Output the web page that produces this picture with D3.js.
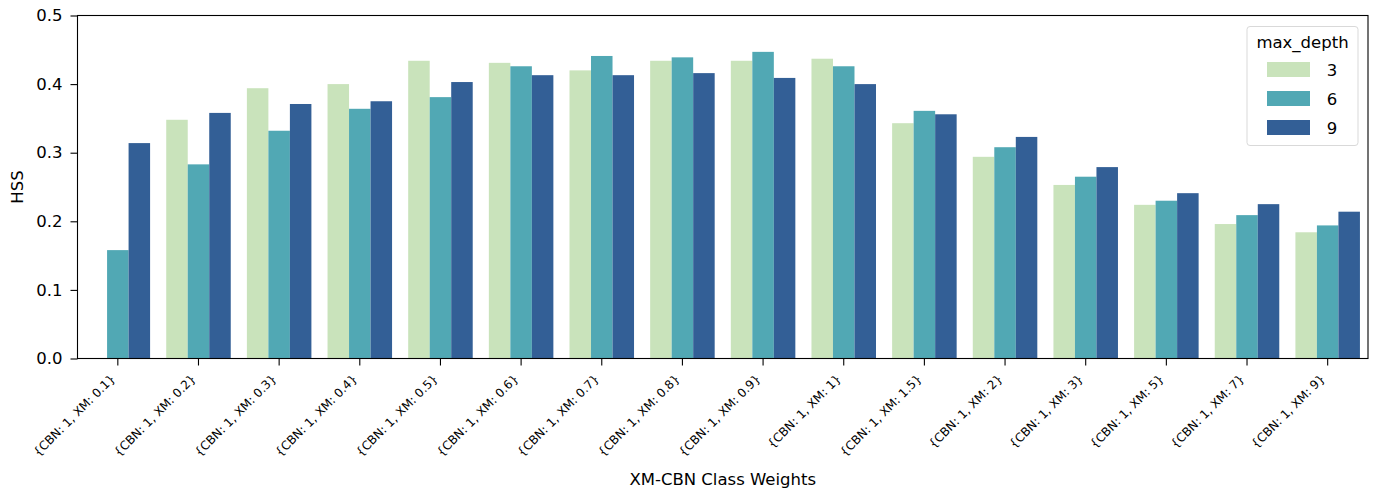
<!DOCTYPE html>
<html><head><meta charset="utf-8">
<script src="https://cdn.jsdelivr.net/npm/d3@7"></script>
<style>body{margin:0;background:#fff}svg{display:block;font-family:"DejaVu Sans",sans-serif}</style>
</head><body><svg id="c" width="1376" height="491"></svg>
<script>
const categories = ["{CBN: 1, XM: 0.1}","{CBN: 1, XM: 0.2}","{CBN: 1, XM: 0.3}","{CBN: 1, XM: 0.4}","{CBN: 1, XM: 0.5}","{CBN: 1, XM: 0.6}","{CBN: 1, XM: 0.7}","{CBN: 1, XM: 0.8}","{CBN: 1, XM: 0.9}","{CBN: 1, XM: 1}","{CBN: 1, XM: 1.5}","{CBN: 1, XM: 2}","{CBN: 1, XM: 3}","{CBN: 1, XM: 5}","{CBN: 1, XM: 7}","{CBN: 1, XM: 9}"];
const depths = ["3","6","9"];
const depth3 = [0.0,0.348,0.394,0.400,0.434,0.431,0.420,0.434,0.434,0.437,0.343,0.294,0.253,0.224,0.196,0.184];
const depth6 = [0.158,0.283,0.332,0.364,0.381,0.426,0.441,0.439,0.447,0.426,0.361,0.308,0.265,0.230,0.209,0.194];
const depth9 = [0.314,0.358,0.371,0.375,0.403,0.413,0.413,0.416,0.409,0.400,0.356,0.323,0.279,0.241,0.225,0.214];
const yTicks = [0.0,0.1,0.2,0.3,0.4,0.5];
const colors = ["#c9e3bb","#51a8b4","#335f96"];

const series = [depth3, depth6, depth9];
const svg = d3.select("#c");
const L = 77.5, R = 1368, T = 15.5, B = 358.5;
const FS = 16.5;
const x = d3.scaleBand().domain(categories).range([L, R]).paddingInner(0.2).paddingOuter(0.1);
const xs = d3.scaleBand().domain(depths).range([0, x.bandwidth()]);
const y = d3.scaleLinear().domain([0, 0.5]).range([B, T]);

const g = svg.append("g");
categories.forEach((c, i) => {
  depths.forEach((d, j) => {
    const v = series[j][i];
    if (!v) return;
    g.append("rect").attr("x", x(c) + xs(d)).attr("width", xs.bandwidth())
      .attr("y", y(v)).attr("height", B - y(v)).attr("fill", colors[j]);
  });
});

// frame
svg.append("rect").attr("x", L).attr("y", T).attr("width", R - L).attr("height", B - T)
  .attr("fill", "none").attr("stroke", "#000").attr("stroke-width", 1.1);

// y axis
const ya = svg.append("g").attr("transform", `translate(${L},0)`)
  .call(d3.axisLeft(y).tickValues(yTicks).tickFormat(d3.format(".1f")).tickSize(7).tickPadding(8));
ya.select(".domain").remove();
ya.selectAll("text").attr("font-size", FS).attr("fill", "#000").attr("font-family", "DejaVu Sans");
ya.selectAll("line").attr("stroke", "#000").attr("stroke-width", 1.1);

// x axis
const xa = svg.append("g").attr("transform", `translate(0,${B})`)
  .call(d3.axisBottom(x).tickSize(7).tickFormat(""));
xa.select(".domain").remove();
xa.selectAll("line").attr("stroke", "#000").attr("stroke-width", 1.1);
xa.selectAll(".tick").append("text")
  .attr("transform", "translate(-2,21) rotate(-45)")
  .attr("text-anchor", "end")
  .attr("font-size", 12).attr("fill", "#000").attr("font-family", "DejaVu Sans")
  .text(d => d);

svg.append("text").attr("x", (L + R) / 2).attr("y", 485).attr("text-anchor", "middle")
  .attr("font-size", FS).text("XM-CBN Class Weights");
svg.append("text").attr("transform", `translate(23,${(T + B) / 2}) rotate(-90)`)
  .attr("text-anchor", "middle").attr("font-size", FS).text("HSS");

// legend
const lg = svg.append("g");
lg.append("rect").attr("x", 1247).attr("y", 26.5).attr("width", 111).attr("height", 119).attr("rx", 3)
  .attr("fill", "#fff").attr("fill-opacity", 0.8).attr("stroke", "#d9d9d9").attr("stroke-width", 1);
lg.append("text").attr("x", 1302.5).attr("y", 48).attr("text-anchor", "middle").attr("font-size", FS).text("max_depth");
depths.forEach((d, j) => {
  const cy = 69.5 + j * 29;
  lg.append("rect").attr("x", 1267).attr("y", cy - 7.5).attr("width", 43).attr("height", 15).attr("fill", colors[j]);
  lg.append("text").attr("x", 1332).attr("y", cy + 6).attr("text-anchor", "middle").attr("font-size", FS).text(d);
});
</script></body></html>
